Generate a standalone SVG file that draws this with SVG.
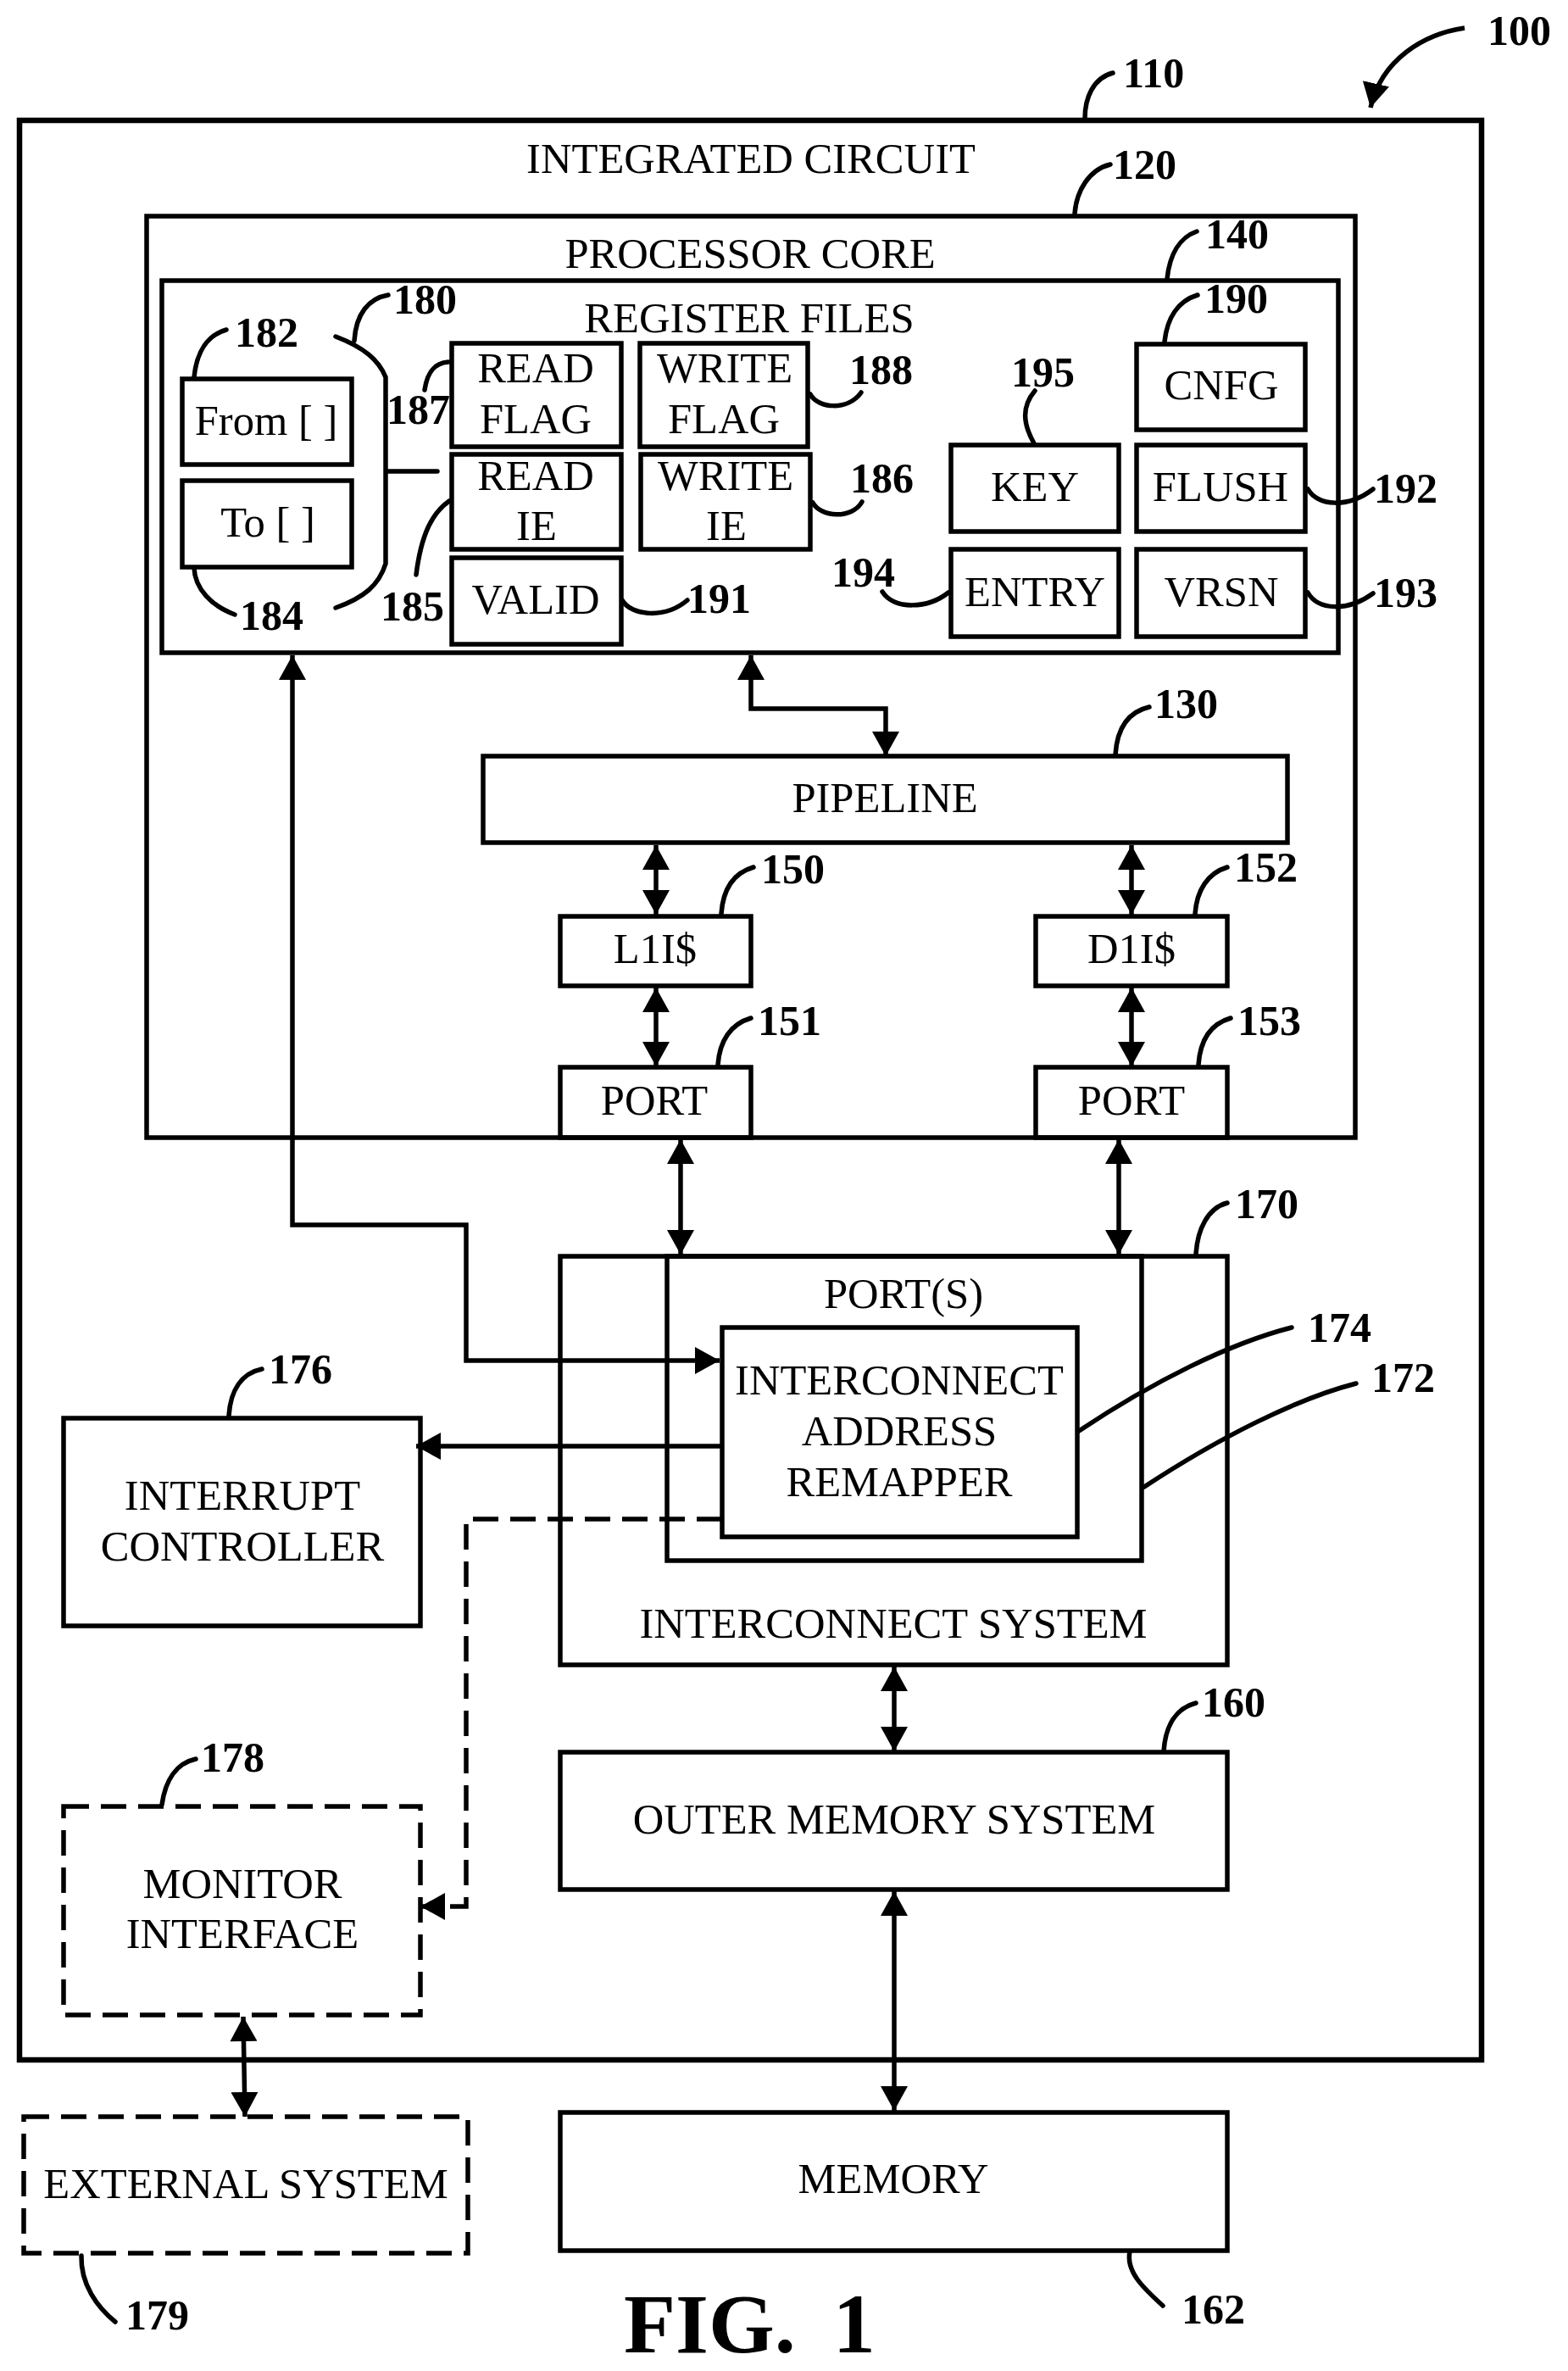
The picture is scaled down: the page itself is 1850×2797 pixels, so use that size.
<svg xmlns="http://www.w3.org/2000/svg" width="1850" height="2797" viewBox="0 0 1850 2797">
<style>
rect{fill:none;stroke:#000;stroke-width:5.5}
.d{stroke-dasharray:30 14}
.o{stroke-width:6.5}
text{font-family:"Liberation Serif","Times New Roman",serif;font-size:50.6px;fill:#000;text-anchor:middle}
.n{font-weight:bold;font-size:50px;text-anchor:start}
.l,.c{fill:none;stroke:#000;stroke-linecap:round}
.l{stroke-width:5.5}
.c{stroke-width:5.5;stroke-linecap:butt}
.a{marker-start:url(#as);marker-end:url(#ae)}
.e{marker-end:url(#ae)}
</style>
<defs>
<marker id="ae" markerUnits="userSpaceOnUse" markerWidth="32" markerHeight="32" refX="29" refY="16" orient="auto"><path d="M0 0L29 16L0 32Z"/></marker>
<marker id="as" markerUnits="userSpaceOnUse" markerWidth="32" markerHeight="32" refX="0" refY="16" orient="auto"><path d="M29 0L0 16L29 32Z"/></marker>
</defs>
<g id="integrated-circuit"><rect class="o" x="23" y="142" width="1725" height="2288"/><text x="886" y="204">INTEGRATED CIRCUIT</text></g>
<g id="processor-core"><rect x="173" y="255" width="1426" height="1087"/><text x="885" y="316">PROCESSOR CORE</text></g>
<g id="register-files"><rect x="191" y="331" width="1388" height="439"/><text x="884" y="392">REGISTER FILES</text></g>
<g id="from"><rect x="215" y="447" width="200" height="101"/><text x="314" y="513">From [ ]</text></g>
<g id="to"><rect x="215" y="567" width="200" height="102"/><text x="316" y="633">To [ ]</text></g>
<g id="read-flag"><rect x="533" y="405" width="200" height="122"/><text x="632" y="451">READ</text><text x="632" y="511">FLAG</text></g>
<g id="write-flag"><rect x="755" y="405" width="198" height="122"/><text x="855" y="451">WRITE</text><text x="854" y="511">FLAG</text></g>
<g id="read-ie"><rect x="533" y="536" width="200" height="112"/><text x="632" y="578">READ</text><text x="633" y="637">IE</text></g>
<g id="write-ie"><rect x="756" y="536" width="200" height="112"/><text x="856" y="578">WRITE</text><text x="857" y="637">IE</text></g>
<g id="valid"><rect x="533" y="658" width="200" height="102"/><text x="632" y="724">VALID</text></g>
<g id="cnfg"><rect x="1341" y="406" width="199" height="101"/><text x="1441" y="471">CNFG</text></g>
<g id="key"><rect x="1122" y="525" width="198" height="102"/><text x="1221" y="591">KEY</text></g>
<g id="flush"><rect x="1341" y="525" width="199" height="102"/><text x="1440" y="591">FLUSH</text></g>
<g id="entry"><rect x="1122" y="648" width="198" height="103"/><text x="1221" y="715">ENTRY</text></g>
<g id="vrsn"><rect x="1341" y="648" width="199" height="103"/><text x="1441" y="715">VRSN</text></g>
<g id="pipeline"><rect x="570" y="892" width="949" height="102"/><text x="1044" y="958">PIPELINE</text></g>
<g id="l1i"><rect x="661" y="1081" width="225" height="82"/><text x="773" y="1136">L1I$</text></g>
<g id="d1i"><rect x="1222" y="1081" width="226" height="82"/><text x="1335" y="1136">D1I$</text></g>
<g id="port-l"><rect x="661" y="1259" width="225" height="83"/><text x="772" y="1315">PORT</text></g>
<g id="port-d"><rect x="1222" y="1259" width="226" height="83"/><text x="1335" y="1315">PORT</text></g>
<g id="interconnect-system"><rect x="661" y="1482" width="787" height="482"/><text x="1054" y="1932">INTERCONNECT SYSTEM</text></g>
<g id="ports"><rect x="787" y="1482" width="560" height="359"/><text x="1066" y="1543">PORT(S)</text></g>
<g id="remapper"><rect x="852" y="1566" width="419" height="247"/><text x="1061" y="1645">INTERCONNECT</text><text x="1061" y="1705">ADDRESS</text><text x="1061" y="1765">REMAPPER</text></g>
<g id="outer-memory"><rect x="661" y="2067" width="787" height="162"/><text x="1055" y="2163">OUTER MEMORY SYSTEM</text></g>
<g id="memory"><rect x="661" y="2492" width="787" height="163"/><text x="1054" y="2587">MEMORY</text></g>
<g id="interrupt-controller"><rect x="75" y="1673" width="421" height="245"/><text x="286" y="1781">INTERRUPT</text><text x="286" y="1841">CONTROLLER</text></g>
<g id="monitor-interface"><rect class="d" x="75" y="2131" width="421" height="246"/><text x="286" y="2239">MONITOR</text><text x="286" y="2298">INTERFACE</text></g>
<g id="external-system"><rect class="d" x="28" y="2497" width="524" height="161"/><text x="290" y="2593">EXTERNAL SYSTEM</text></g>
<g id="connectors">
<path class="c a" d="M886 773V836H1045V892"/>
<path class="c a" d="M774 997V1079"/>
<path class="c a" d="M1335 997V1079"/>
<path class="c a" d="M774 1165V1258"/>
<path class="c a" d="M1335 1165V1258"/>
<path class="c a" d="M803 1344V1480"/>
<path class="c a" d="M1320 1344V1480"/>
<path class="c a" d="M1055 1966V2066"/>
<path class="c a" d="M1055 2231V2490"/>
<path class="c a" d="M345 773V1445H550V1605H849"/>
<path class="c e" d="M852 1706H491"/>
<path class="c e d" d="M852 1792H550V2249H496"/>
<path class="c a" d="M287 2379L289 2497"/>
<path class="c e" d="M1728 33C1680 40 1630 70 1617 127"/>
<path d="M396 397C430 410 447 425 455 445V665C447 690 430 705 396 717M456 556H516" fill="none" stroke="#000" stroke-width="5.5" stroke-linecap="round"/>
</g>
<g id="leaders">
<path class="l" d="M1313 86C1290 92 1280 115 1280 140"/>
<path class="l" d="M1310 194C1285 200 1270 225 1268 252"/>
<path class="l" d="M1412 273C1392 280 1380 300 1377 329"/>
<path class="l" d="M458 348C435 352 420 370 418 402"/>
<path class="l" d="M267 389C245 395 232 415 229 445"/>
<path class="l" d="M229 670C230 695 250 715 277 725"/>
<path class="l" d="M529 427C512 428 504 440 501 460"/>
<path class="l" d="M530 591C510 605 497 630 491 678"/>
<path class="l" d="M734 708C745 727 785 730 811 708"/>
<path class="l" d="M956 465C965 482 1000 485 1016 463"/>
<path class="l" d="M959 593C968 610 1005 613 1017 592"/>
<path class="l" d="M1413 348C1390 355 1377 375 1374 403"/>
<path class="l" d="M1221 461C1205 480 1207 500 1220 523"/>
<path class="l" d="M1543 577C1555 597 1590 600 1620 577"/>
<path class="l" d="M1543 699C1555 720 1590 722 1620 700"/>
<path class="l" d="M1119 699C1095 718 1055 720 1041 698"/>
<path class="l" d="M1356 834C1330 840 1318 860 1316 890"/>
<path class="l" d="M889 1023C865 1030 853 1050 851 1078"/>
<path class="l" d="M1448 1023C1425 1030 1412 1050 1410 1078"/>
<path class="l" d="M886 1201C862 1208 849 1228 847 1256"/>
<path class="l" d="M1452 1201C1428 1208 1416 1228 1414 1256"/>
<path class="l" d="M1448 1419C1425 1425 1413 1450 1411 1479"/>
<path class="l" d="M1411 2009C1388 2015 1375 2035 1373 2066"/>
<path class="l" d="M1524 1566C1450 1585 1360 1630 1273 1688"/>
<path class="l" d="M1600 1632C1530 1650 1440 1695 1350 1754"/>
<path class="l" d="M1333 2656C1328 2680 1350 2700 1372 2720"/>
<path class="l" d="M309 1615C285 1620 272 1640 270 1670"/>
<path class="l" d="M231 2075C208 2080 195 2100 191 2129"/>
<path class="l" d="M96 2661C95 2695 115 2722 136 2739"/>
</g>
<g id="labels">
<text class="n" x="1755" y="53">100</text><text class="n" x="1325" y="103">110</text><text class="n" x="1313" y="211">120</text><text class="n" x="1422" y="293">140</text>
<text class="n" x="464" y="370">180</text><text class="n" x="277" y="409">182</text><text class="n" x="283" y="743">184</text><text class="n" x="456" y="500">187</text><text class="n" x="449" y="732">185</text><text class="n" x="811" y="723">191</text>
<text class="n" x="1002" y="453">188</text><text class="n" x="1003" y="581">186</text><text class="n" x="1421" y="369">190</text><text class="n" x="1193" y="456">195</text><text class="n" x="1621" y="593">192</text><text class="n" x="1621" y="716">193</text><text class="n" x="981" y="692">194</text>
<text class="n" x="1362" y="847">130</text><text class="n" x="898" y="1042">150</text><text class="n" x="1456" y="1040">152</text><text class="n" x="894" y="1221">151</text><text class="n" x="1460" y="1221">153</text>
<text class="n" x="1457" y="1437">170</text><text class="n" x="1543" y="1583">174</text><text class="n" x="1618" y="1642">172</text><text class="n" x="1418" y="2025">160</text><text class="n" x="1394" y="2741">162</text>
<text class="n" x="317" y="1632">176</text><text class="n" x="237" y="2090">178</text><text class="n" x="148" y="2748">179</text>
</g>
<text x="736" y="2775" style="font-weight:bold;font-size:100px;text-anchor:start;white-space:pre;word-spacing:-3px">FIG.  1</text>
</svg>
